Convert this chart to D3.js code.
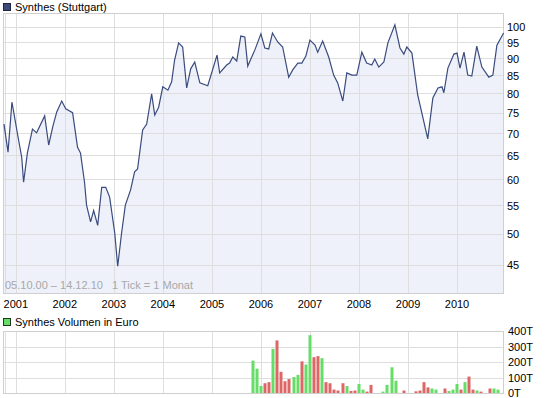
<!DOCTYPE html>
<html>
<head>
<meta charset="utf-8">
<script src="https://cdn.jsdelivr.net/npm/d3@7"></script>
<style>
body { margin: 0; background: #fff; }
svg text { font-family: "Liberation Sans", Arial, sans-serif; font-size: 11px; fill: #000; }
</style>
</head>
<body>
<svg id="chart" width="545" height="398"></svg>
<script>
//------ Données ------
// Kurs (Stuttgart)
var priceDates = ["2000-10-05","2000-11-04","2000-12-03","2000-12-11","2001-01-15","2001-02-14","2001-02-28","2001-03-28",
  "2001-05-05","2001-06-05","2001-08-04","2001-09-03","2001-10-03","2001-11-02","2001-12-09","2002-01-08",
  "2002-02-28","2002-04-06","2002-04-28","2002-05-28","2002-06-12","2002-07-12","2002-08-04","2002-09-03",
  "2002-10-03","2002-11-02","2002-12-01","2003-01-08","2003-01-30","2003-02-28","2003-03-28","2003-05-06",
  "2003-06-05","2003-06-27","2003-08-04","2003-09-03","2003-10-10","2003-11-02","2003-12-01","2004-01-01",
  "2004-02-08","2004-03-07","2004-03-29","2004-04-28","2004-05-28","2004-06-27","2004-07-27","2004-08-26",
  "2004-10-03","2004-12-01","2005-02-08","2005-02-28","2005-04-21","2005-05-13","2005-06-05","2005-07-05",
  "2005-08-04","2005-09-03","2005-09-25","2005-11-17","2006-01-01","2006-01-30","2006-02-28","2006-03-28",
  "2006-05-06","2006-06-12","2006-07-27","2006-08-26","2006-10-03","2006-11-02","2006-12-02","2007-01-01",
  "2007-02-08","2007-02-28","2007-04-06","2007-05-21","2007-06-27","2007-07-27","2007-09-03","2007-10-03",
  "2007-11-10","2007-12-16","2008-01-23","2008-02-28","2008-04-06","2008-04-28","2008-05-28","2008-07-05",
  "2008-08-04","2008-09-25","2008-11-02","2008-12-01","2008-12-23","2009-01-30","2009-03-14","2009-04-21",
  "2009-05-28","2009-07-05","2009-08-12","2009-09-11","2009-09-25","2009-10-25","2009-12-09","2010-01-01",
  "2010-01-23","2010-02-22","2010-03-22","2010-04-21","2010-05-28","2010-07-05","2010-08-26","2010-09-25",
  "2010-10-25","2010-12-14"];
var priceValues = [72.2,65.7,77.7,76.2,69.6,64.6,59.4,65.5,
  71.0,70.1,74.2,67.3,71.5,75.2,78.0,76.0,
  75.0,66.8,65.5,59.4,55.0,52.0,54.0,51.4,
  58.4,58.4,56.5,50.1,44.8,50.1,55.0,57.9,
  61.5,62.1,70.8,72.2,79.9,74.4,76.4,81.8,
  80.9,83.2,89.5,94.8,93.5,81.5,86.9,88.9,
  82.9,82.1,91.0,85.7,88.0,88.6,90.4,89.2,
  97.0,96.7,87.7,92.6,97.7,93.2,92.9,98.0,
  95.1,93.5,84.5,86.6,88.6,88.6,90.7,95.7,
  94.1,91.9,95.4,90.4,85.1,82.9,78.0,85.7,
  85.1,85.1,91.9,88.6,88.0,89.8,87.4,88.9,
  94.8,100.7,93.2,91.3,93.5,91.6,79.6,73.9,
  68.7,78.8,81.5,81.8,80.2,87.1,91.3,91.6,
  87.1,91.9,85.1,84.8,93.8,87.4,84.5,85.1,
  94.1,98.0];

// Volumen in Euro (Tausend), pro Monat
var volMonths = ["2005-11","2005-12","2006-01","2006-02","2006-03","2006-04","2006-05","2006-06","2006-07","2006-08",
  "2006-09","2006-10","2006-11","2006-12","2007-01","2007-02","2007-03","2007-04","2007-05","2007-06",
  "2007-07","2007-08","2007-09","2007-10","2007-11","2007-12","2008-01","2008-02","2008-03","2008-04",
  "2008-07","2008-08","2008-09","2008-10","2008-12","2009-03","2009-04","2009-05","2009-06","2009-07",
  "2009-08","2009-10","2009-11","2009-12","2010-01","2010-02","2010-03","2010-04","2010-05","2010-06",
  "2010-07","2010-09","2010-10","2010-11"];
var volValues = [209,157,45,63,70,285,339,137,76,90,
  103,117,204,184,373,231,238,225,70,63,
  22,16,63,45,13,16,58,22,9,52,
  9,52,166,79,16,11,16,70,36,29,
  22,29,13,22,58,22,70,106,22,16,
  9,29,29,22];
// 1 = steigend (grün), 0 = fallend (rot)
var volUp = [1,1,1,0,0,1,0,0,0,0,
  1,1,0,1,1,0,0,1,0,0,
  0,0,0,1,0,0,1,1,0,0,
  1,1,1,1,0,0,0,0,0,1,
  1,0,1,1,1,0,1,0,0,1,
  0,0,1,1];

var priceTicks = [45,50,55,60,65,70,75,80,85,90,95,100];
var volTicks = [0,100,200,300,400];
var volTickLabels = ["0T","100T","200T","300T","400T"];
var yearTicks = ["2001","2002","2003","2004","2005","2006","2007","2008","2009","2010"];
var rangeText = "05.10.00 \u2013 14.12.10   1 Tick = 1 Monat";

//------ Rendre la carte ------
var parseDay = d3.utcParse("%Y-%m-%d"),
    parseMonth = d3.utcParse("%Y-%m"),
    parseYear = d3.utcParse("%Y");

var svg = d3.select("#chart");

var left = 3, right = 503;
var top1 = 13, bottom1 = 293;
var top2 = 331, bottom2 = 393;

var gridColor = "#dedede", frameColor = "#cfcfcf";

var x = d3.scaleUtc()
    .domain([parseDay("2000-10-05"), parseDay("2010-12-14")])
    .range([4, 503.6]);

var y = d3.scaleLog()
    .domain([40.96, 104.8])
    .range([bottom1, top1]);

var yv = d3.scaleLinear()
    .domain([0, 400])
    .range([bottom2, top2]);

var price = priceDates.map((d, i) => ({ date: parseDay(d), value: priceValues[i] }));
var volume = volMonths.map((d, i) => ({ date: parseMonth(d), value: volValues[i], up: volUp[i] }));

// -- Titel / Legende --
svg.append("rect").attr("x", 3.5).attr("y", 3.5).attr("width", 7).attr("height", 7)
    .attr("fill", "#3b4a7a").attr("stroke", "#1e2540");
svg.append("text").attr("x", 15).attr("y", 11).text("Synthes (Stuttgart)");

svg.append("rect").attr("x", 3.5).attr("y", 318.5).attr("width", 7).attr("height", 7)
    .attr("fill", "#66dd66").attr("stroke", "#1e3a1e");
svg.append("text").attr("x", 15).attr("y", 326).text("Synthes Volumen in Euro");

// -- Kurs: Fläche --
var area = d3.area()
    .x(d => x(d.date))
    .y0(bottom1)
    .y1(d => y(d.value));

svg.append("path")
    .datum(price)
    .attr("fill", "#eef1fa")
    .attr("d", area);

// -- Gitter oben --
var grid1 = svg.append("g");
grid1.selectAll("line.h")
    .data(priceTicks)
    .enter().append("line")
    .attr("class", "h")
    .attr("x1", left).attr("x2", right)
    .attr("y1", d => Math.round(y(d)) + 0.5)
    .attr("y2", d => Math.round(y(d)) + 0.5)
    .attr("stroke", gridColor);
grid1.selectAll("line.v")
    .data(yearTicks)
    .enter().append("line")
    .attr("class", "v")
    .attr("x1", d => Math.round(x(parseYear(d))) + 0.5)
    .attr("x2", d => Math.round(x(parseYear(d))) + 0.5)
    .attr("y1", top1).attr("y2", bottom1)
    .attr("stroke", gridColor);
grid1.append("rect")
    .attr("x", left + 0.5).attr("y", top1 + 0.5)
    .attr("width", right - left).attr("height", bottom1 - top1)
    .attr("fill", "none").attr("stroke", frameColor);
grid1.append("line")
    .attr("x1", left + 2.5).attr("x2", left + 2.5)
    .attr("y1", top1).attr("y2", bottom1)
    .attr("stroke", gridColor);

// -- Kurslinie --
svg.append("path")
    .datum(price)
    .attr("fill", "none")
    .attr("stroke", "#3a4b7d")
    .attr("stroke-width", 1.2)
    .attr("d", d3.line().x(d => x(d.date)).y(d => y(d.value)));

svg.append("text")
    .attr("x", 5).attr("y", 289)
    .attr("xml:space", "preserve")
    .style("fill", "#a8a8a8")
    .text(rangeText);

// -- Achsen oben --
svg.selectAll("text.ylab")
    .data(priceTicks)
    .enter().append("text")
    .attr("class", "ylab")
    .attr("x", 507)
    .attr("y", d => y(d))
    .attr("dy", "0.4em")
    .text(d => d);

svg.selectAll("text.xlab")
    .data(yearTicks)
    .enter().append("text")
    .attr("class", "xlab")
    .attr("text-anchor", "middle")
    .attr("x", d => x(parseYear(d)))
    .attr("y", 308)
    .text(d => d);

// -- Volumen --
var grid2 = svg.append("g");
grid2.selectAll("line.h")
    .data(volTicks)
    .enter().append("line")
    .attr("x1", left).attr("x2", right)
    .attr("y1", d => Math.round(yv(d)) + 0.5)
    .attr("y2", d => Math.round(yv(d)) + 0.5)
    .attr("stroke", gridColor);
grid2.selectAll("line.v")
    .data(yearTicks)
    .enter().append("line")
    .attr("x1", d => Math.round(x(parseYear(d))) + 0.5)
    .attr("x2", d => Math.round(x(parseYear(d))) + 0.5)
    .attr("y1", top2).attr("y2", bottom2)
    .attr("stroke", gridColor);
grid2.append("rect")
    .attr("x", left + 0.5).attr("y", top2 + 0.5)
    .attr("width", right - left).attr("height", bottom2 - top2)
    .attr("fill", "none").attr("stroke", frameColor);
grid2.append("line")
    .attr("x1", left + 2.5).attr("x2", left + 2.5)
    .attr("y1", top2).attr("y2", bottom2)
    .attr("stroke", gridColor);

svg.selectAll("rect.vol")
    .data(volume)
    .enter().append("rect")
    .attr("class", "vol")
    .attr("x", d => Math.round(x(d.date)) - 1.5)
    .attr("width", 3)
    .attr("y", d => yv(d.value))
    .attr("height", d => yv(0) - yv(d.value))
    .attr("fill", d => d.up ? "#66dd66" : "#dd6666");

svg.selectAll("text.vlab")
    .data(volTicks)
    .enter().append("text")
    .attr("class", "vlab")
    .attr("x", 508)
    .attr("y", d => yv(d))
    .attr("dy", "0.4em")
    .text((d, i) => volTickLabels[i]);
</script>
</body>
</html>
